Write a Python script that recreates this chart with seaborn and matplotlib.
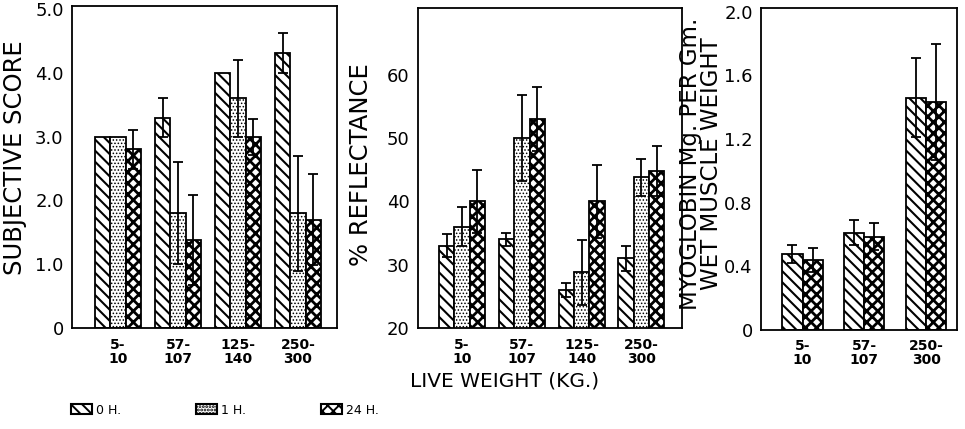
import numpy as np
import pandas as pd
import matplotlib
matplotlib.use("Agg")
import matplotlib.pyplot as plt
from matplotlib.patches import Patch
import seaborn as sns

# ---- data -------------------------------------------------------------
times = ["0 H.", "1 H.", "24 H."]

score_groups = ["5-\n10", "57-\n107", "125-\n140", "250-\n300"]
score_0h = [3.0, 3.3, 4.0, 4.31]
score_1h = [3.0, 1.8, 3.6, 1.8]
score_24h = [2.8, 1.38, 3.0, 1.7]
score_err_0h = [0.0, 0.3, 0.0, 0.31]
score_err_1h = [0.0, 0.8, 0.6, 0.9]
score_err_24h = [0.3, 0.7, 0.28, 0.71]

refl_groups = ["5-\n10", "57-\n107", "125-\n140", "250-\n300"]
refl_0h = [33.0, 34.0, 26.0, 31.0]
refl_1h = [36.0, 50.0, 28.8, 43.8]
refl_24h = [40.0, 53.0, 40.0, 44.8]
refl_err_0h = [1.8, 1.0, 1.1, 2.0]
refl_err_1h = [3.1, 6.8, 5.1, 2.9]
refl_err_24h = [5.0, 5.0, 5.8, 3.9]

myo_groups = ["5-\n10", "57-\n107", "250-\n300"]
myo_0h = [0.475, 0.61, 1.46]
myo_24h = [0.437, 0.585, 1.435]
myo_err_0h = [0.055, 0.08, 0.25]
myo_err_24h = [0.075, 0.085, 0.365]

score_ticks = [0, 1.0, 2.0, 3.0, 4.0, 5.0]
score_ticklabels = ["0", "1.0", "2.0", "3.0", "4.0", "5.0"]
refl_ticks = [20, 30, 40, 50, 60]
myo_ticks = [0, 0.4, 0.8, 1.2, 1.6, 2.0]
myo_ticklabels = ["0", "0.4", "0.8", "1.2", "1.6", "2.0"]

# ---- styling ----------------------------------------------------------
sns.set_theme(style="white")
plt.rcParams["font.family"] = ["DejaVu Sans"]
plt.rcParams["text.color"] = "black"
plt.rcParams["axes.labelcolor"] = "black"
plt.rcParams["xtick.color"] = "black"
plt.rcParams["ytick.color"] = "black"
plt.rcParams["hatch.linewidth"] = 1.4
plt.rcParams["hatch.color"] = "black"

hatches = {"0 H.": "\\\\\\", "1 H.": ".....", "24 H.": "xxx"}
hatch_lw = {"0 H.": 1.5, "1 H.": 0.7, "24 H.": 2.0}


def long_frame(groups, cols):
    rows = []
    for t, vals in cols.items():
        for g, v in zip(groups, vals):
            rows.append({"weight": g, "time": t, "value": v})
    return pd.DataFrame(rows)


def draw_panel(ax, groups, cols, errs, width):
    df = long_frame(groups, cols)
    levels = list(cols.keys())
    sns.barplot(data=df, x="weight", y="value", hue="time", order=groups,
                hue_order=levels, palette={t: "white" for t in levels},
                edgecolor="black", linewidth=1.3, errorbar=None,
                width=width, gap=0, legend=False, ax=ax, zorder=2)
    for cont, lvl in zip(ax.containers, levels):
        xs, ys, es = [], [], []
        for p, e in zip(cont.patches, errs[lvl]):
            p.set_hatch(hatches[lvl])
            p.set_edgecolor("black")
            if hasattr(p, "set_hatch_linewidth"):
                p.set_hatch_linewidth(hatch_lw[lvl])
            if e > 0:
                xs.append(p.get_x() + p.get_width() / 2)
                ys.append(p.get_height())
                es.append(e)
        if xs:
            ax.errorbar(xs, ys, yerr=es, fmt="none", ecolor="black",
                        elinewidth=1.3, capsize=3.5, capthick=1.3, zorder=4)


def style_axes(ax):
    for s in ax.spines.values():
        s.set_visible(True)
        s.set_color("black")
        s.set_linewidth(1.3)
    ax.tick_params(axis="y", direction="out", length=5, width=1.3,
                   labelsize=13, pad=1)
    ax.tick_params(axis="x", length=0, labelsize=10, pad=7)
    for lab in ax.get_xticklabels():
        lab.set_fontweight("bold")
        lab.set_linespacing(1.0)
    ax.set_xlabel("")


fig = plt.figure(figsize=(9.65, 4.29), dpi=100)
ax1 = fig.add_axes([0.0746, 0.2354, 0.2746, 0.7506])
ax2 = fig.add_axes([0.4332, 0.2354, 0.2736, 0.7460])
ax3 = fig.add_axes([0.7886, 0.2319, 0.2031, 0.7494])

draw_panel(ax1, score_groups,
           {"0 H.": score_0h, "1 H.": score_1h, "24 H.": score_24h},
           {"0 H.": score_err_0h, "1 H.": score_err_1h, "24 H.": score_err_24h},
           0.77)
ax1.set_ylim(0, 5.05)
ax1.set_xlim(-0.767, 3.65)
ax1.set_yticks(score_ticks, score_ticklabels)
style_axes(ax1)
ax1.set_ylabel("SUBJECTIVE SCORE", fontsize=17.5)
ax1.yaxis.set_label_coords(-0.17, 0.53)

draw_panel(ax2, refl_groups,
           {"0 H.": refl_0h, "1 H.": refl_1h, "24 H.": refl_24h},
           {"0 H.": refl_err_0h, "1 H.": refl_err_1h, "24 H.": refl_err_24h},
           0.77)
ax2.set_ylim(20, 70.5)
ax2.set_xlim(-0.736, 3.68)
ax2.set_yticks(refl_ticks)
style_axes(ax2)
ax2.set_ylabel("% REFLECTANCE", fontsize=17.5)
ax2.yaxis.set_label_coords(-0.17, 0.51)
ax2.set_xlabel("LIVE WEIGHT (KG.)", fontsize=14.5)
ax2.xaxis.set_label_coords(0.326, -0.135)

draw_panel(ax3, myo_groups,
           {"0 H.": myo_0h, "24 H.": myo_24h},
           {"0 H.": myo_err_0h, "24 H.": myo_err_24h},
           0.65)
ax3.set_ylim(0, 2.025)
ax3.set_xlim(-0.672, 2.5)
ax3.set_yticks(myo_ticks, myo_ticklabels)
style_axes(ax3)
ax3.set_ylabel("MYOGLOBIN Mg. PER Gm.\nWET MUSCLE WEIGHT", fontsize=16.5,
               linespacing=0.9)
ax3.yaxis.set_label_coords(-0.194, 0.515)

handles = []
for t in times:
    h = Patch(facecolor="white", edgecolor="black", hatch=hatches[t],
              linewidth=1.5)
    if hasattr(h, "set_hatch_linewidth"):
        h.set_hatch_linewidth(hatch_lw[t])
    handles.append(h)
fig.legend(handles, times, loc="center left", ncol=3, frameon=False,
           bbox_to_anchor=(0.0735, 1 - 410 / 429), fontsize=9,
           handlelength=1.7, handleheight=0.9, handletextpad=0.3,
           columnspacing=6.0, borderaxespad=0, borderpad=0)

fig.savefig("out.png", dpi=100)
